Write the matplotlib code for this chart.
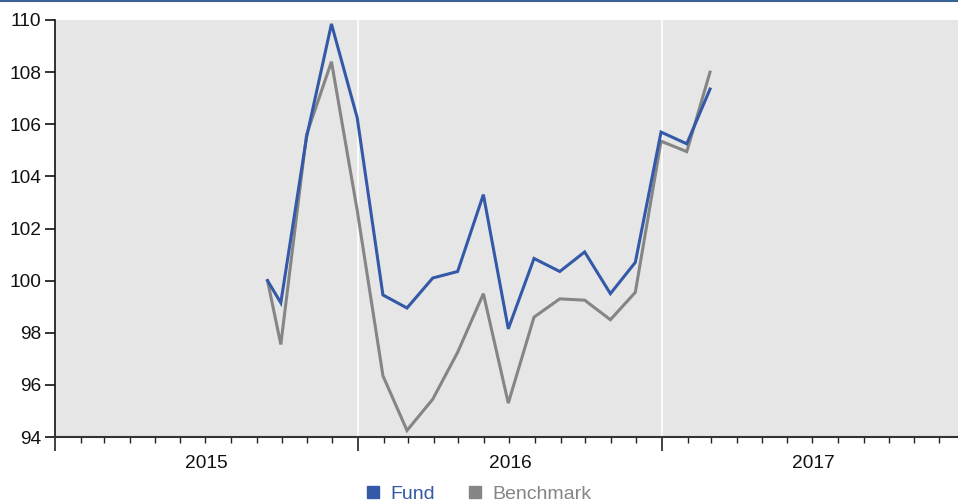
import matplotlib
matplotlib.use("Agg")
import matplotlib.pyplot as plt
import matplotlib.dates as mdates
from matplotlib.lines import Line2D
import pandas as pd

plt.rcParams['font.family'] = ['Liberation Sans', 'DejaVu Sans']

dates = ["2015-09-14", "2015-09-30", "2015-10-31", "2015-11-30", "2015-12-31",
         "2016-01-31", "2016-02-29", "2016-03-31", "2016-04-30", "2016-05-31",
         "2016-06-30", "2016-07-31", "2016-08-31", "2016-09-30", "2016-10-31",
         "2016-11-30", "2016-12-31", "2017-01-31", "2017-02-28"]
fund = [100.0, 99.15, 105.5, 109.85, 106.25, 99.45, 98.95, 100.1, 100.35, 103.3,
        98.15, 100.85, 100.35, 101.1, 99.5, 100.7, 105.7, 105.25, 107.35]
benchmark = [100.0, 97.55, 105.6, 108.4, 102.7, 96.35, 94.25, 95.45, 97.25, 99.5,
             95.3, 98.6, 99.3, 99.25, 98.5, 99.55, 105.35, 104.95, 108.0]
years = [2015, 2016, 2017]
yticks = [94, 96, 98, 100, 102, 104, 106, 108, 110]

FUND_C = "#3459a8"
BENCH_C = "#858585"

x = pd.to_datetime(dates)

W, H = 958, 503
fig = plt.figure(figsize=(W / 100, H / 100), dpi=100)
left, top, bottom = 55, 20, 437
x0 = pd.Timestamp("2015-01-01")
x1 = pd.Timestamp("2018-01-01")
width_px = 303.3 * 3
ax = fig.add_axes([left / W, 1 - bottom / H, width_px / W, (bottom - top) / H])
ax.set_facecolor("#e6e6e6")

ax.plot(x, benchmark, color=BENCH_C, lw=2.2, zorder=3, solid_joinstyle='miter')
ax.plot(x, fund, color=FUND_C, lw=2.2, zorder=4, solid_joinstyle='miter')

ax.set_xlim(x0, x1)
ax.set_ylim(94, 110)
ax.set_yticks(yticks)
ax.set_yticklabels([str(v) for v in yticks], fontsize=13.8)

for yr in years[1:]:
    ax.axvline(pd.Timestamp(f"{yr}-01-01"), color="white", lw=1.2, zorder=1)

ax.xaxis.set_major_locator(mdates.YearLocator())
ax.xaxis.set_minor_locator(mdates.MonthLocator())
ax.xaxis.set_major_formatter(plt.NullFormatter())
ax.tick_params(axis='x', which='major', length=10, width=1.2, color='#222222', direction='out')
ax.tick_params(axis='x', which='minor', length=4, width=1.0, color='#222222', direction='out')
ax.tick_params(axis='y', which='major', length=7, width=1.2, color='#111111', pad=3, labelcolor='#111111')

for yr in years:
    mid = pd.Timestamp(f"{yr}-07-02")
    ax.text(mid, -0.063, str(yr), transform=ax.get_xaxis_transform(), ha='center', va='center',
            fontsize=13.8, color='#111111')

for s in ['top', 'right']:
    ax.spines[s].set_visible(False)
ax.spines['left'].set_color('#111111')
ax.spines['left'].set_linewidth(1.2)
ax.spines['bottom'].set_color('#333333')
ax.spines['bottom'].set_linewidth(1.5)

# top rule
fig.add_artist(Line2D([0, 1], [1 - 1 / H, 1 - 1 / H], transform=fig.transFigure, color="#3a6194", lw=1.5))

# legend
handles = [Line2D([], [], marker='s', ls='none', color=FUND_C, markersize=8.6),
           Line2D([], [], marker='s', ls='none', color=BENCH_C, markersize=8.6)]
leg = fig.legend(handles, ["Fund", "Benchmark"], loc='center', bbox_to_anchor=(477.5 / W, 1 - 494 / H),
                 ncol=2, frameon=False, fontsize=14, handletextpad=0.38, columnspacing=1.55,
                 handlelength=1.0, borderpad=0, borderaxespad=0)
for t, c in zip(leg.get_texts(), [FUND_C, BENCH_C]):
    t.set_color(c)

fig.savefig("out.png", dpi=100)
